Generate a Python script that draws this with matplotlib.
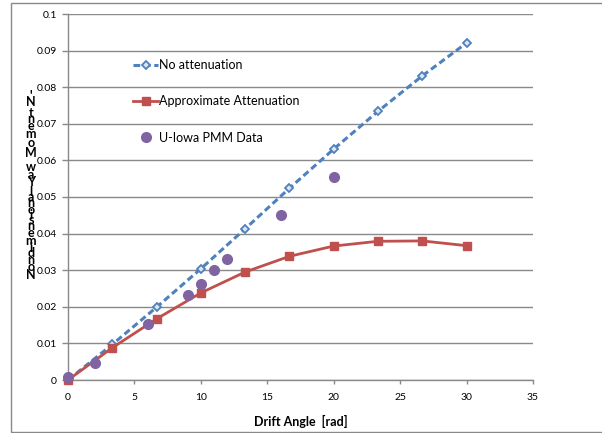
import numpy as np
import matplotlib.pyplot as plt
from matplotlib.patches import Rectangle
from matplotlib.ticker import FuncFormatter, MultipleLocator
from matplotlib.font_manager import FontProperties

plt.rcParams.update({
    "font.family": ["Lato", "DejaVu Sans"],
    "font.size": 7.5,
})

# Data
drift = [0, 3.33, 6.67, 10, 13.33, 16.67, 20, 23.33, 26.67, 30]
no_atten = [0, 0.0097, 0.0199, 0.0304, 0.0413, 0.0524, 0.0631, 0.0734, 0.0831, 0.0921]
approx_atten = [0, 0.0088, 0.0167, 0.0238, 0.0295, 0.0338, 0.0366, 0.0379, 0.0380, 0.0367]

pmm_drift = [0, 2, 6, 9, 10, 11, 12, 16, 20]
pmm_yaw = [0.0009, 0.0046, 0.0152, 0.0231, 0.0262, 0.0301, 0.0330, 0.0451, 0.0555]

labels = ["No attenuation", "Approximate Attenuation", "U-Iowa PMM Data"]
ylabel = "Nondimensional Yaw Moment N'"
xlabel = "Drift Angle  [rad]"

BLUE = "#4F81BD"
RED = "#C0504D"
PURPLE = "#8064A2"
GRID = "#898989"

W, H = 602, 433
fig = plt.figure(figsize=(W / 100, H / 100), dpi=100)

# Outer chart frame (Excel style)
fig.patches.append(Rectangle((11 / W, 1 - 432 / H), 1.0, (432 - 3) / H,
                             transform=fig.transFigure, fill=False,
                             edgecolor=GRID, linewidth=1.0))

ax = fig.add_axes([68 / W, 1 - 380 / H, (533 - 68) / W, (380 - 14) / H])

ax.plot(drift, no_atten, color=BLUE, linestyle=(0, (2.2, 1.2)), linewidth=2.2,
        marker="D", markersize=4.5, markerfacecolor="#DCE6F2",
        markeredgecolor=BLUE, markeredgewidth=1.3, label=labels[0], zorder=3)
ax.plot(drift, approx_atten, color=RED, linewidth=2.0,
        marker="s", markersize=6, markerfacecolor=RED, markeredgecolor=RED,
        label=labels[1], zorder=4)
ax.plot(pmm_drift, pmm_yaw, linestyle="none", marker="o", markersize=7,
        color=PURPLE, label=labels[2], zorder=5)

ax.set_xlim(0, 35)
ax.set_ylim(0, 0.1)
ax.xaxis.set_major_locator(MultipleLocator(5))
ax.yaxis.set_major_locator(MultipleLocator(0.01))
ax.yaxis.set_major_formatter(FuncFormatter(lambda v, p: "%g" % round(v, 3)))

ax.yaxis.grid(True, color=GRID, linewidth=1.0)
ax.set_axisbelow(True)
for s in ["top", "right"]:
    ax.spines[s].set_visible(False)
for s in ["left", "bottom"]:
    ax.spines[s].set_color(GRID)
    ax.spines[s].set_linewidth(1.0)
ax.tick_params(axis="both", colors=GRID, labelcolor="black", width=1.0)
ax.tick_params(axis="y", length=4, pad=4)
ax.tick_params(axis="x", length=3, pad=6)
for ln in ax.lines:
    ln.set_clip_on(False)

ax.set_xlabel(xlabel, fontsize=9, fontweight="bold", labelpad=10)

leg = ax.legend(loc="upper left", bbox_to_anchor=((133 - 68) / 465, (380 - 59) / 366),
                frameon=False, fontsize=9, labelspacing=1.95, handlelength=2.0,
                handletextpad=0.1, borderpad=0, borderaxespad=0)

# Y label: upright characters stacked bottom to top (as in the reference)
fp = FontProperties(family=["Lato", "DejaVu Sans"], size=9, weight="bold")
renderer = fig.canvas.get_renderer()
adv = [renderer.get_text_width_height_descent(c if c != " " else "n", fp, ismath=False)[0]
       * (0.55 if c == " " else 1.0) for c in ylabel]
total = sum(adv)
y0, y1 = 280, 95
scale = (y0 - y1) / total
ypos = y0
for c, a in zip(ylabel, adv):
    if c != " ":
        fig.text(31 / W, 1 - (ypos - a * scale / 2) / H, c, fontproperties=fp,
                 ha="center", va="center")
    ypos -= a * scale

fig.savefig("out.png", dpi=100)
